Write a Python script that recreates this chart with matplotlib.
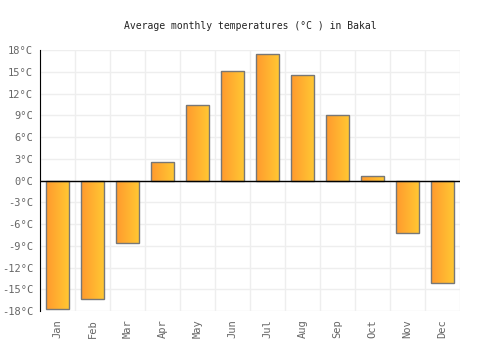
import matplotlib.pyplot as plt
import numpy as np
from matplotlib.colors import LinearSegmentedColormap

# monthly data
months = ["Jan", "Feb", "Mar", "Apr", "May", "Jun", "Jul", "Aug", "Sep", "Oct", "Nov", "Dec"]
temps = [-17.7, -16.3, -8.6, 2.6, 10.4, 15.1, 17.4, 14.5, 9.1, 0.6, -7.3, -14.1]
yticks = [-18, -15, -12, -9, -6, -3, 0, 3, 6, 9, 12, 15, 18]

plt.rcParams["font.family"] = "DejaVu Sans Mono"

fig = plt.figure(figsize=(5, 3.5), dpi=100)
ax = fig.add_axes([0.08, 0.1114, 0.84, 0.7457])

x = np.arange(len(months))
bars = ax.bar(x, temps, width=0.66, facecolor="none", edgecolor="#777777", linewidth=1, zorder=3)

cmap = LinearSegmentedColormap.from_list("grad", ["#ff9a2e", "#ffc933"])
grad = np.linspace(0, 1, 64).reshape(1, -1)
for b in bars:
    bx, by = b.get_x(), b.get_y()
    w, h = b.get_width(), b.get_height()
    im = ax.imshow(grad, cmap=cmap, aspect="auto", extent=[bx, bx + w, by, by + h], zorder=2)
    im.set_clip_path(b)

ax.set_xlim(-0.5, len(months) - 0.5)
ax.set_ylim(-18, 18)
ax.set_yticks(yticks)
ax.set_yticklabels([f"{t}°C" for t in yticks])
ax.set_xticks(x)
ax.set_xticklabels(months, rotation=90)
ax.set_xticks(np.arange(-0.5, len(months), 1), minor=True)

ax.grid(True, which="minor", axis="x", color="#eeeeee", linewidth=1, zorder=0)
ax.grid(True, which="major", axis="y", color="#eeeeee", linewidth=1, zorder=0)
ax.axhline(0, color="black", linewidth=1, zorder=4)

for s in ["top", "right", "bottom"]:
    ax.spines[s].set_visible(False)
ax.spines["left"].set_color("black")
ax.tick_params(axis="both", which="both", length=0, colors="#666666", labelsize=7.5)
ax.tick_params(axis="y", pad=5)
ax.tick_params(axis="x", pad=6)

fig.text(0.5, 0.926, "Average monthly temperatures (°C ) in Bakal", ha="center", va="center", fontsize=7, color="#222222")

plt.savefig("out.png", dpi=100)
